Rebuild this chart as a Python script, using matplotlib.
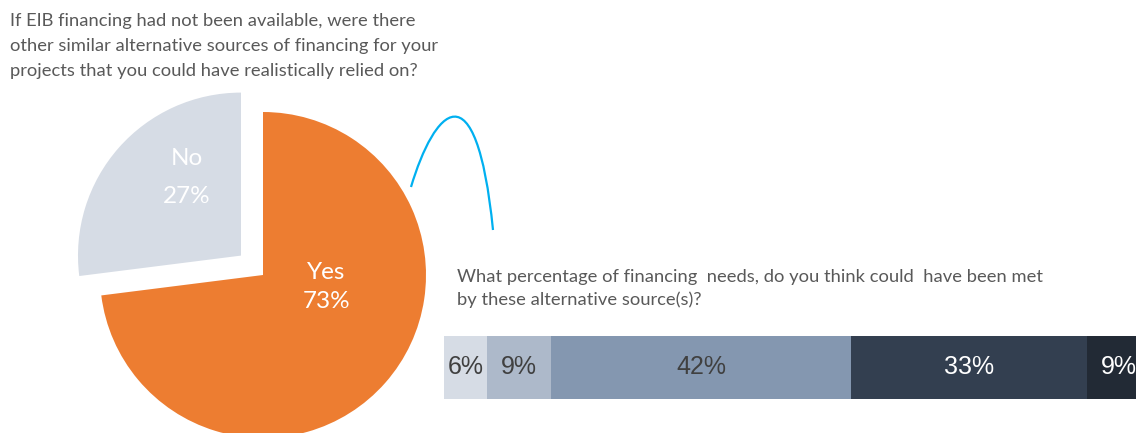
import matplotlib.pyplot as plt
from matplotlib.path import Path
from matplotlib.patches import PathPatch

# ============= Data
pieLabels = ['Yes', 'No']
pieValues = [73, 27]
pieColors = ['#ED7D31', '#D6DCE5']

barValues = [6, 9, 42, 33, 9]
barColors = ['#D6DCE5', '#ADB9CA', '#8497B0', '#333F50', '#222A35']
barTextColors = ['#404040', '#404040', '#404040', 'white', 'white']

pieTitle = ('If EIB financing had not been available, were there\n'
            'other similar alternative sources of financing for your\n'
            'projects that you could have realistically relied on?')
barTitle = ('What percentage of financing  needs, do you think could  have been met\n'
            'by these alternative source(s)?')

# ============= Figure
W, H = 1136, 433
fig = plt.figure(figsize=(W / 100, H / 100), dpi=100)
textFont = ['Lato', 'DejaVu Sans']
barFont = ['Liberation Sans Narrow', 'Liberation Sans', 'DejaVu Sans']

def px_axes(x0, ytop, w, h):
    # axes placed in pixels, y measured from the top
    return fig.add_axes([x0 / W, 1 - (ytop + h) / H, w / W, h / H])

# ============= Pie
R = 163  # pie radius in pixels
cx, cy = 263, 275
half = 200
axPie = px_axes(cx - half, cy - half, 2 * half, 2 * half)
wedges, _ = axPie.pie(pieValues, colors=pieColors, startangle=90, counterclock=False,
                      explode=[0, 0.18], radius=1)
lim = half / R
axPie.set_xlim(-lim, lim)
axPie.set_ylim(-lim, lim)
axPie.set_aspect('equal')
axPie.axis('off')

axPie.text(0.39, -0.075, 'Yes\n73%', ha='center', va='center', color='white',
           fontsize=17.5, family=textFont, linespacing=1.5)
axPie.text(-0.47, 0.6, 'No\n27%', ha='center', va='center', color='white',
           fontsize=17.5, family=textFont, linespacing=2.0)

fig.text(10 / W, 1 - 13 / H, pieTitle, ha='left', va='top', color='#595959',
         fontsize=13.2, family=textFont, linespacing=1.68)

# ============= Stacked bar
pxPerPct = 7.14
axBar = px_axes(444, 336, W - 444, 63)
left = 0
for val, col, tcol in zip(barValues, barColors, barTextColors):
    axBar.barh(0, val, left=left, height=1, color=col, align='edge')
    axBar.text(left + val / 2, 0.5, '%d%%' % val, ha='center', va='center',
               color=tcol, fontsize=18, family=barFont)
    left += val
axBar.set_xlim(0, (W - 444) / pxPerPct)
axBar.set_ylim(0, 1)
axBar.axis('off')

fig.text(457 / W, 1 - 269 / H, barTitle, ha='left', va='top', color='#595959',
         fontsize=13.2, family=textFont, linespacing=1.45)

# ============= Blue connector curve
def fig_pt(x, y):
    return (x / W, 1 - y / H)

verts = [fig_pt(411, 187), fig_pt(434, 110), fig_pt(476, 62), fig_pt(493, 230)]
codes = [Path.MOVETO, Path.CURVE4, Path.CURVE4, Path.CURVE4]
fig.patches.append(PathPatch(Path(verts, codes), transform=fig.transFigure,
                             facecolor='none', edgecolor='#00B0F0', lw=1.6))

fig.savefig('out.png', dpi=100)
